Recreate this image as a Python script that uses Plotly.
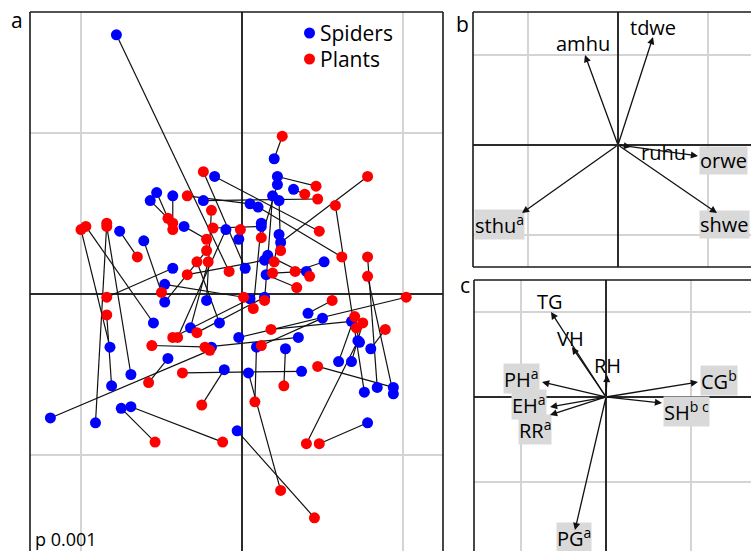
import plotly.graph_objects as go

# ---- Panel a: Procrustes superimposition (spider vs plant ordination per site) ----
spider_x = [-0.078, -0.017, -0.057, -0.053, -0.043, -0.024, -0.076, -0.061, -0.036, -0.010,
            -0.002, -0.043, -0.048, -0.048, -0.022, -0.055, -0.032, -0.014, -0.002, 0.002,
            0.020, 0.022, 0.022, 0.032, 0.019, 0.023, 0.005, 0.010, 0.012, 0.012,
            0.023, 0.024, 0.016, 0.014, 0.051, 0.015, 0.040, 0.014, 0.005, 0.041,
            0.050, 0.068, 0.035, 0.072, -0.082, -0.046, -0.069, -0.081, -0.075, -0.069,
            -0.119, -0.091, -0.011, -0.003, -0.019, 0.009, 0.027, 0.004, 0.037, 0.060,
            0.068, 0.073, 0.080, 0.076, 0.084, 0.094, 0.094, 0.078]
spider_y = [0.161, 0.073, 0.058, 0.063, 0.061, 0.058, 0.039, 0.033, 0.042, 0.040,
            0.034, 0.016, 0.006, -0.005, -0.004, -0.018, -0.021, -0.018, -0.027, 0.016,
            0.084, 0.073, 0.068, 0.065, 0.061, 0.058, 0.056, 0.054, 0.044, 0.042,
            0.037, 0.032, 0.024, 0.021, 0.020, 0.012, 0.014, -0.002, -0.003, -0.012,
            -0.015, -0.017, -0.027, -0.029, -0.033, -0.040, -0.050, -0.057, -0.071, -0.070,
            -0.077, -0.080, -0.047, -0.085, -0.033, -0.033, -0.034, -0.049, -0.048, -0.042,
            -0.042, -0.030, -0.034, -0.061, -0.058, -0.058, -0.062, -0.080]
plant_x = [-0.008, 0.048, -0.043, -0.046, -0.043, 0.047, -0.065, -0.050, -0.022, -0.040,
           -0.001, -0.084, 0.001, -0.022, -0.019, -0.097, -0.021, -0.028, 0.102, -0.024,
           0.025, 0.046, 0.012, 0.039, 0.014, 0.024, -0.034, 0.062, 0.007, -0.018,
           0.020, 0.078, 0.042, -0.034, 0.033, 0.034, 0.019, -0.028, -0.043, 0.056,
           0.012, 0.018, -0.023, 0.040, -0.100, -0.058, -0.084, -0.084, -0.054, -0.012,
           -0.020, -0.084, -0.025, 0.045, -0.056, 0.008, 0.026, 0.024, -0.037, 0.070,
           0.075, 0.071, 0.089, 0.058, 0.078, 0.047, 0.078, 0.048]
plant_y = [0.014, 0.039, 0.044, 0.047, 0.040, 0.059, 0.023, 0.001, 0.034, -0.027,
           0.040, -0.002, -0.002, 0.027, 0.052, 0.042, 0.020, 0.020, -0.002, 0.076,
           0.098, 0.067, 0.035, 0.062, -0.004, 0.027, 0.061, 0.023, -0.009, 0.041,
           0.020, 0.073, 0.011, 0.012, 0.014, 0.004, 0.013, -0.024, -0.027, -0.004,
           -0.032, -0.022, -0.033, -0.093, 0.040, -0.055, 0.042, -0.013, -0.092, -0.092,
           -0.035, 0.044, -0.069, -0.139, -0.032, -0.067, -0.057, -0.122, -0.049, -0.014,
           -0.018, -0.021, -0.022, 0.055, 0.023, -0.045, 0.011, -0.093]
group_names = ["Spiders", "Plants"]
group_colors = ["#0000ff", "#ff0000"]
p_value_text = "p 0.001"

# ---- Panel b: spider guild vectors ----
guild_names = ["amhu", "tdwe", "ruhu", "orwe", "shwe", "sthu<sup>a</sup>"]
guild_x = [-0.367, 0.389, 0.144, 0.889, 1.100, -1.067]
guild_y = [1.000, 1.200, -0.020, -0.122, -0.756, -0.756]
guild_signif = [False, False, False, True, True, True]

# ---- Panel c: habitat variable vectors ----
habitat_names = ["TG", "VH", "RH", "PH<sup>a</sup>", "CG<sup>b</sup>", "SH<sup>b c</sup>",
                 "EH<sup>a</sup>", "RR<sup>a</sup>", "PG<sup>a</sup>"]
habitat_x = [-0.647, -0.400, 0.012, -0.753, 1.082, 0.659, -0.659, -0.659, -0.365]
habitat_y = [1.000, 0.588, 0.259, 0.176, 0.176, -0.071, -0.118, -0.212, -1.565]
habitat_signif = [False, False, False, True, True, True, True, True, True]

# label placement (axis units) and anchors
guild_label_pos = [(-0.389, 1.133, "center"), (0.389, 1.311, "center"), (0.511, -0.078, "center"),
                   (0.900, -0.167, "left"), (0.900, -0.878, "left"), (-1.600, -0.878, "left")]
habitat_label_pos = [(-0.659, 1.129, "center"), (-0.412, 0.694, "center"), (0.012, 0.365, "center"),
                     (-0.776, 0.212, "right"), (1.106, 0.200, "left"), (0.671, -0.176, "left"),
                     (-0.694, -0.094, "right"), (-0.635, -0.388, "right"), (-0.376, -1.650, "center")]

W, H = 751, 551
FONT = "Open Sans"
GRID = "#d4d4d4"
ZERO = "#2b2b2b"


def px(x):
    return x / W


def py(y):
    return 1 - y / H


fig = go.Figure()

# connecting segments for each site
seg_x, seg_y = [], []
for sx, sy, qx, qy in zip(spider_x, spider_y, plant_x, plant_y):
    seg_x += [sx, qx, None]
    seg_y += [sy, qy, None]
fig.add_trace(go.Scatter(x=seg_x, y=seg_y, mode="lines", line=dict(color="#111111", width=1.2),
                         showlegend=False, hoverinfo="skip", xaxis="x", yaxis="y"))
fig.add_trace(go.Scatter(x=spider_x, y=spider_y, mode="markers", name=group_names[0],
                         marker=dict(color=group_colors[0], size=11), showlegend=False,
                         xaxis="x", yaxis="y"))
fig.add_trace(go.Scatter(x=plant_x, y=plant_y, mode="markers", name=group_names[1],
                         marker=dict(color=group_colors[1], size=11), showlegend=False,
                         xaxis="x", yaxis="y"))

# empty traces so panels b and c axes render
fig.add_trace(go.Scatter(x=[0], y=[0], mode="markers", marker=dict(size=1, opacity=0),
                         showlegend=False, hoverinfo="skip", xaxis="x2", yaxis="y2"))
fig.add_trace(go.Scatter(x=[0], y=[0], mode="markers", marker=dict(size=1, opacity=0),
                         showlegend=False, hoverinfo="skip", xaxis="x3", yaxis="y3"))

ax_common = dict(showticklabels=False, ticks="", showline=False, gridcolor=GRID, gridwidth=1.5,
                 zeroline=True, zerolinecolor=ZERO, zerolinewidth=1.5, fixedrange=True)

# panel geometry in pixels
a_l, a_r, a_t = 30, 443, 12
b_l, b_t, b_b = 473, 12, 267
c_l, c_t = 474, 280

fig.update_layout(
    width=W, height=H, margin=dict(l=0, r=0, t=0, b=0),
    paper_bgcolor="white", plot_bgcolor="white", showlegend=False,
    font=dict(family=FONT, color="black"),
    xaxis=dict(domain=[px(a_l), px(a_r)], range=[(a_l - 242) / 1610, (a_r - 242) / 1610],
               dtick=0.1, tick0=0, **ax_common),
    yaxis=dict(domain=[0, py(a_t)], range=[(294 - H) / 1610, (294 - a_t) / 1610],
               dtick=0.1, tick0=0, **ax_common),
    xaxis2=dict(domain=[px(b_l), 1], range=[(b_l - 618) / 90, (W - 618) / 90],
                dtick=1, tick0=0, anchor="y2", **ax_common),
    yaxis2=dict(domain=[py(b_b), py(b_t)], range=[(145 - b_b) / 90, (145 - b_t) / 90],
                dtick=1, tick0=0, anchor="x2", **ax_common),
    xaxis3=dict(domain=[px(c_l), 1], range=[(c_l - 606) / 85, (W - 606) / 85],
                dtick=1, tick0=0, anchor="y3", **ax_common),
    yaxis3=dict(domain=[0, py(c_t)], range=[(397 - H) / 85, (397 - c_t) / 85],
                dtick=1, tick0=0, anchor="x3", **ax_common),
)

# panel frames
frame = dict(type="line", xref="paper", yref="paper", line=dict(color="#1a1a1a", width=1.6))
shapes = [
    dict(x0=px(a_l), x1=px(a_l), y0=0, y1=py(a_t), **frame),
    dict(x0=px(a_l), x1=px(a_r), y0=py(a_t), y1=py(a_t), **frame),
    dict(x0=px(a_r), x1=px(a_r), y0=0, y1=py(a_t), **frame),
    dict(x0=px(b_l), x1=px(b_l), y0=py(b_b), y1=py(b_t), **frame),
    dict(x0=px(b_l), x1=1, y0=py(b_t), y1=py(b_t), **frame),
    dict(x0=px(b_l), x1=1, y0=py(b_b), y1=py(b_b), **frame),
    dict(x0=px(c_l), x1=px(c_l), y0=0, y1=py(c_t), **frame),
    dict(x0=px(c_l), x1=1, y0=py(c_t), y1=py(c_t), **frame),
]

ann = []
# legend: coloured dot + label
for i, (name, col) in enumerate(zip(group_names, group_colors)):
    cy = 33 + 26 * i
    shapes.append(dict(type="circle", xref="paper", yref="paper",
                       x0=px(304), x1=px(315), y0=py(cy + 5.5), y1=py(cy - 5.5),
                       fillcolor=col, line=dict(width=0)))
    ann.append(dict(text=name, x=px(318), y=py(cy), xref="paper", yref="paper",
                    xanchor="left", yanchor="middle", showarrow=False,
                    font=dict(size=21, family=FONT)))
fig.update_layout(shapes=shapes)

# panel letters
for letter, lx, ly in [("a", 17, 20), ("b", 462, 24), ("c", 465, 285)]:
    ann.append(dict(text=letter, x=px(lx), y=py(ly), xref="paper", yref="paper",
                    xanchor="center", yanchor="middle",
                    showarrow=False, font=dict(size=21, family=FONT)))
ann.append(dict(text=p_value_text, x=px(33), y=py(539), xref="paper", yref="paper",
                xanchor="left", yanchor="middle", showarrow=False, font=dict(size=18, family=FONT)))

arrows = []


def add_vectors(names, xs, ys, sig, label_pos, xa, ya):
    for name, vx, vy, s, (lx, ly, anchor) in zip(names, xs, ys, sig, label_pos):
        ann.append(dict(x=lx, y=ly, xref=xa, yref=ya, text=name, showarrow=False,
                        xanchor=anchor, yanchor="middle",
                        bgcolor="#d9d9d9" if s else "rgba(0,0,0,0)", borderpad=0,
                        font=dict(size=20, family=FONT)))
        arrows.append(dict(x=vx, y=vy, ax=0, ay=0, xref=xa, yref=ya, axref=xa, ayref=ya,
                           text="", showarrow=True, arrowhead=2, arrowsize=1.1, arrowwidth=1.3,
                           arrowcolor="#111111", standoff=0, startstandoff=0))


add_vectors(guild_names, guild_x, guild_y, guild_signif, guild_label_pos, "x2", "y2")
add_vectors(habitat_names, habitat_x, habitat_y, habitat_signif, habitat_label_pos, "x3", "y3")

# arrows drawn after labels so arrowheads stay on top of the shaded boxes
fig.update_layout(annotations=ann + arrows)
fig.write_html("out.html")
